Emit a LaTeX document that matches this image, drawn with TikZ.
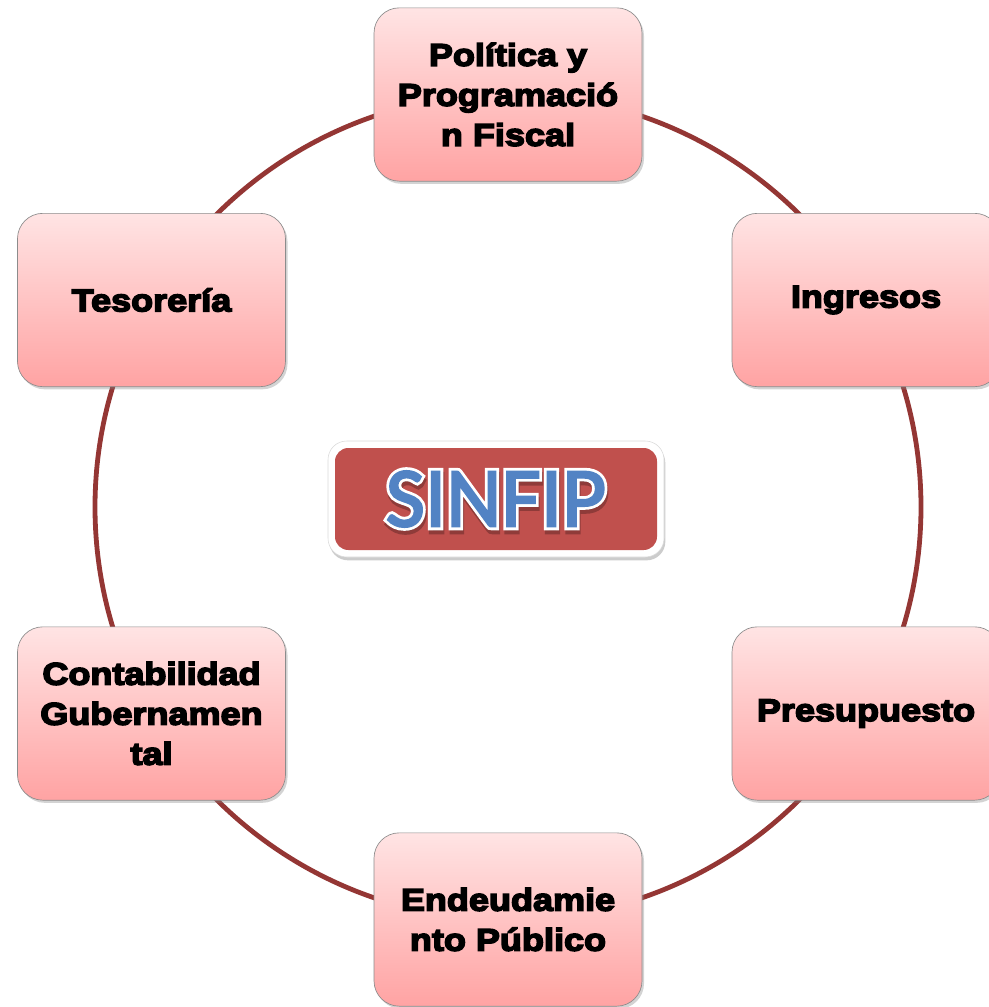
\documentclass[tikz,border=0pt]{standalone}
\usepackage{fontspec}
\usetikzlibrary{shadows}
\newfontfamily\boxfont[FakeStretch=1.15,FakeBold=5]{Liberation Sans Bold}
\newfontfamily\titlefont[FakeBold=2.5]{Carlito}
\newfontfamily\titlehalo[FakeBold=9]{Carlito}
\definecolor{ringred}{HTML}{943634}
\definecolor{boxtop}{HTML}{FFE4E4}
\definecolor{boxbot}{HTML}{FFA3A3}
\definecolor{centerred}{HTML}{C0504D}
\definecolor{titleblue}{HTML}{5283C4}
\tikzset{
  unitbox/.style={rectangle, rounded corners=19pt, draw=black!45, line width=0.5pt,
    top color=boxtop, bottom color=boxbot, minimum width=201pt, minimum height=130pt,
    align=center, font=\boxfont\fontsize{23.5}{30}\selectfont,
    drop shadow={opacity=0.35, shadow xshift=1.5pt, shadow yshift=-2pt}},
  outerbox/.style={rectangle, rounded corners=14pt, fill=white, draw=black!15,
    minimum width=252pt, minimum height=87pt,
    drop shadow={opacity=0.4, shadow xshift=1pt, shadow yshift=-2.5pt}},
  innerbox/.style={rectangle, rounded corners=10pt, fill=centerred,
    minimum width=241.5pt, minimum height=76.5pt},
  ring/.style={draw=ringred, line width=3.6pt},
  titlesize/.style={font=#1\fontsize{64}{64}\selectfont}
}
\begin{document}
\begin{tikzpicture}[x=0.75pt,y=-0.75pt]
\useasboundingbox (0,0) rectangle (989,1007);
\coordinate (ctr) at (508,507);
\draw[ring] (ctr) circle (309.75pt);
\node[unitbox] (pol) at (508,94.5) {Política y\\Programació\\n Fiscal};
\node[unitbox] (ing) at (866,300) {Ingresos};
\node[unitbox] (pre) at (866,713.5) {Presupuesto};
\node[unitbox] (end) at (508,919.5) {Endeudamie\\nto Público};
\node[unitbox] (con) at (151.5,713.5) {Contabilidad\\Gubernamen\\tal};
\node[unitbox] (tes) at (151.5,300) {Tesorería};
\node[outerbox] (cout) at (496,499) {};
\node[innerbox] (cin) at (496,499) {};
\node[titlesize=\titlehalo, text=black, opacity=0.25] (sinfipshadow) at (497,503) {SINFIP};
\node[titlesize=\titlehalo, text=white] (sinfiphalo) at (496,499) {SINFIP};
\node[titlesize=\titlefont, text=titleblue] (sinfip) at (496,499) {SINFIP};
\end{tikzpicture}
\end{document}
